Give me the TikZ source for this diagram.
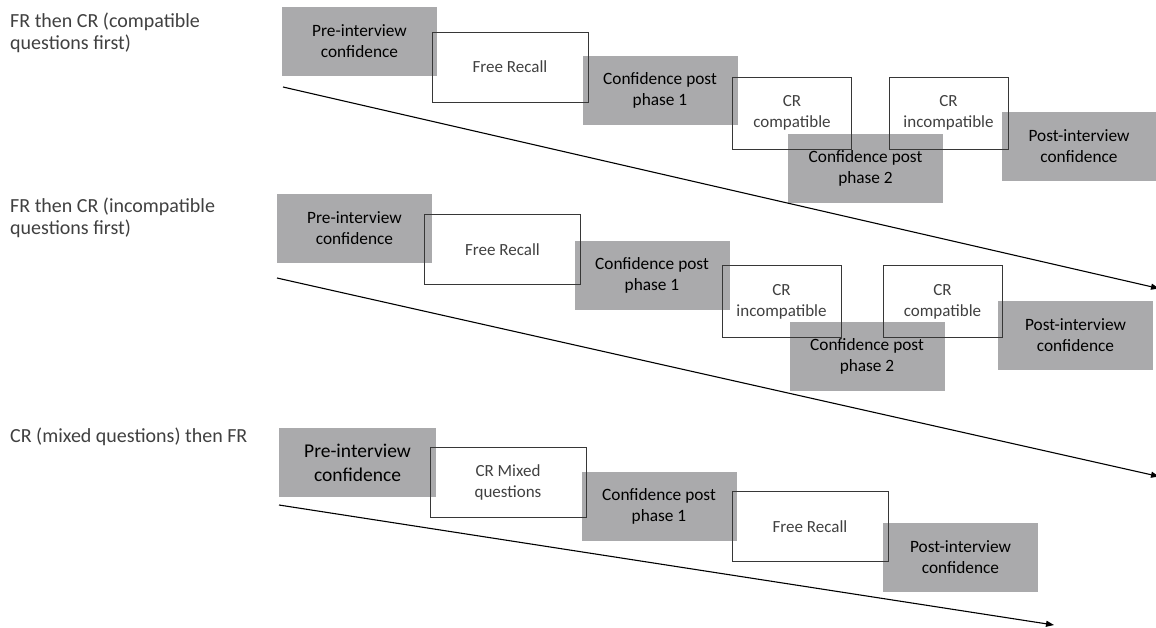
\documentclass[tikz,border=0pt]{standalone}
\usepackage{fontspec}
\setmainfont{Carlito}
\usetikzlibrary{arrows.meta}
\definecolor{boxgray}{RGB}{170,170,172}
\definecolor{labelgray}{RGB}{64,64,64}
\definecolor{edgegray}{RGB}{55,55,55}
\tikzset{
  confbox/.style={fill=boxgray, minimum width=155pt, minimum height=69pt, inner sep=0pt, align=center, text=black, font=\fontsize{17.3}{21}\selectfont},
  taskbox/.style={draw=edgegray, line width=0.9pt, minimum width=156pt, minimum height=70pt, inner sep=0pt, align=center, text=labelgray, font=\fontsize{17}{21}\selectfont},
  crbox/.style={taskbox, minimum width=119pt, minimum height=72pt},
  rowlabel/.style={anchor=north west, inner sep=0pt, align=left, text=labelgray, font=\fontsize{20}{22}\selectfont},
  timeline/.style={-{Triangle[length=8pt,width=6pt]}, line width=1.1pt}
}

\begin{document}
\begin{tikzpicture}[x=1pt, y=-1pt]
  \useasboundingbox (0,0) rectangle (1156,627);

  % FR then CR, compatible first
  \node[rowlabel] (lab1) at (10,13) {FR then CR (compatible\\questions first)};
  \node[confbox] (pre1) at (359.5,41.5) {Pre-interview\\confidence};
  \node[confbox] (cpa1) at (660,90.5) {Confidence post\\phase 1};
  \node[confbox] (cpb1) at (865.5,168.5) {Confidence post\\phase 2};
  \node[confbox] (post1) at (1079,146.5) {Post-interview\\confidence};
  \node[taskbox] (fr1) at (510,67) {Free Recall};
  \node[crbox] (crc1) at (792,113) {CR\\compatible};
  \node[crbox] (cri1) at (948.5,113) {CR\\incompatible};
  \coordinate (t1s) at (283,87);
  \coordinate (t1e) at (1159,288.5);
  \draw[timeline] (t1s) -- (t1e);

  % FR then CR, incompatible first
  \node[rowlabel] (lab2) at (10,198) {FR then CR (incompatible\\questions first)};
  \node[confbox] (pre2) at (354.5,228.5) {Pre-interview\\confidence};
  \node[confbox] (cpa2) at (652,275.5) {Confidence post\\phase 1};
  \node[confbox] (cpb2) at (867,356) {Confidence post\\phase 2};
  \node[confbox] (post2) at (1075.5,335) {Post-interview\\confidence};
  \node[taskbox] (fr2) at (502.5,249.5) {Free Recall};
  \node[crbox] (cri2) at (781.5,301.5) {CR\\incompatible};
  \node[crbox] (crc2) at (942.5,301.5) {CR\\compatible};
  \coordinate (t2s) at (277,278);
  \coordinate (t2e) at (1159,476.5);
  \draw[timeline] (t2s) -- (t2e);

  % CR mixed, then FR
  \node[rowlabel] (lab3) at (10,428) {CR (mixed questions) then FR};
  \node[confbox, minimum width=157pt, font=\fontsize{19.5}{24}\selectfont] (pre3) at (357.5,462.5) {Pre-interview\\confidence};
  \node[confbox] (cpa3) at (659,506.5) {Confidence post\\phase 1};
  \node[confbox] (post3) at (960.5,557) {Post-interview\\confidence};
  \node[taskbox] (crm3) at (508,482) {CR Mixed\\questions};
  \node[taskbox] (fr3) at (810,526.5) {Free Recall};
  \coordinate (t3s) at (279,505);
  \coordinate (t3e) at (1054,625);
  \draw[timeline] (t3s) -- (t3e);
\end{tikzpicture}
\end{document}
